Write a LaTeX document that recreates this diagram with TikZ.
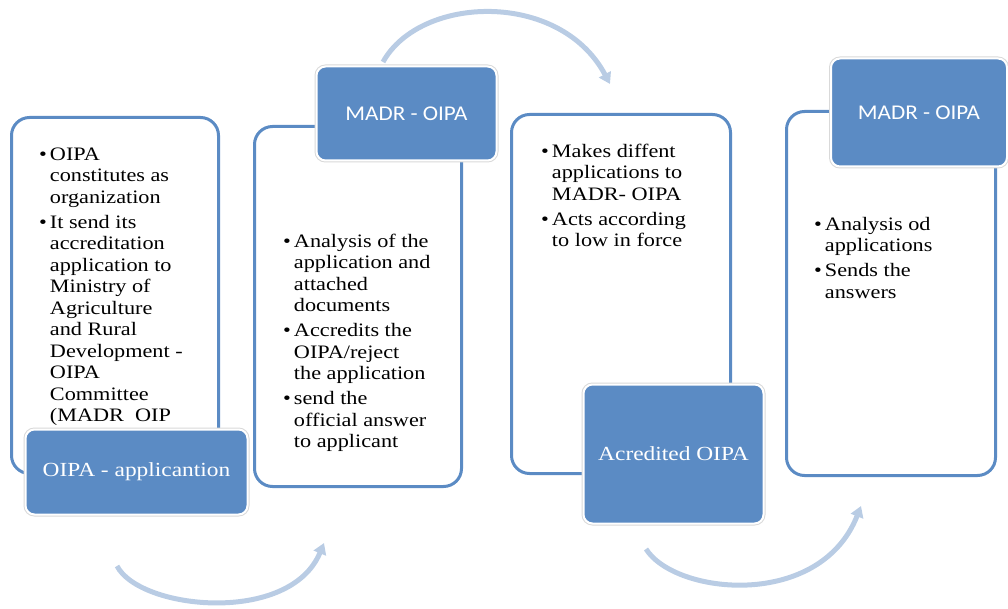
\documentclass[tikz,border=0pt]{standalone}
\usepackage{fontspec}
\setmainfont{Liberation Serif}[FakeStretch=1.17]
\newfontfamily\calibri{Carlito}[FakeStretch=1.1]
\usepackage{tikz}
\usetikzlibrary{arrows.meta}
\definecolor{boxblue}{HTML}{5B8BC4}
\definecolor{arrblue}{HTML}{B9CCE4}

\tikzset{
  panel/.style={draw=boxblue, line width=3pt, fill=white, rounded corners=18pt},
  tag/.style={fill=boxblue, draw=white, line width=2pt, rounded corners=9pt,
    preaction={draw=black!15, line width=4pt}, text=white,
    font=\fontsize{20}{24}\selectfont},
  items/.style={anchor=north west, inner sep=0pt, font=\fontsize{19}{21.5}\selectfont},
  flow/.style={draw=arrblue, line width=5pt, -{Triangle[length=11pt,width=13pt]}}
}

\begin{document}
\begin{tikzpicture}[x=1pt,y=-1pt]
\useasboundingbox (0,0) rectangle (1008,609);

% panels
\node [panel, minimum width=207, minimum height=356] (p1) at (115,295.5) {};
\node [panel, minimum width=207, minimum height=360] (p2) at (358,306.5) {};
\node [panel, minimum width=219, minimum height=359] (p3) at (621,294) {};
\node [panel, minimum width=209, minimum height=364] (p4) at (891,293.5) {};

% bullet texts
\node [items] (t1) at (39,145) {\begin{tabular}{@{}l@{\hspace{3pt}}l@{}}
\textbullet & OIPA\\ & constitutes as\\ & organization\\[3.5pt]
\textbullet & It send its\\ & accreditation\\ & application to\\ & Ministry of\\
 & Agriculture\\ & and Rural\\ & Development -\\ & OIPA\\ & Committee\\ & (MADR\ \ OIP
\end{tabular}};
\node [items] (t2) at (283,232) {\begin{tabular}{@{}l@{\hspace{3pt}}l@{}}
\textbullet & Analysis of the\\ & application and\\ & attached\\ & documents\\[3.5pt]
\textbullet & Accredits the\\ & OIPA/reject\\ & the application\\[3.5pt]
\textbullet & send the\\ & official answer\\ & to applicant
\end{tabular}};
\node [items] (t3) at (541,142) {\begin{tabular}{@{}l@{\hspace{3pt}}l@{}}
\textbullet & Makes diffent\\ & applications to\\ & MADR- OIPA\\[3.5pt]
\textbullet & Acts according\\ & to low in force
\end{tabular}};
\node [items] (t4) at (814,215) {\begin{tabular}{@{}l@{\hspace{3pt}}l@{}}
\textbullet & Analysis od\\ & applications\\[3.5pt]
\textbullet & Sends the\\ & answers
\end{tabular}};

% tags
\node [tag, minimum width=222, minimum height=85] (g1) at (136.5,472) {OIPA - applicantion};
\node [tag, minimum width=180, minimum height=94, font=\calibri\fontsize{21}{24}\selectfont] (g2) at (406.5,113.5) {MADR - OIPA};
\node [tag, minimum width=180, minimum height=139] (g3) at (673.5,454) {Acredited OIPA};
\node [tag, minimum width=176, minimum height=108, font=\calibri\fontsize{21}{24}\selectfont] (g4) at (919,112.5) {MADR - OIPA};

% arrows
\coordinate (a1s) at (383,62);
\coordinate (a1e) at (610,84);
\coordinate (a2s) at (117,566);
\coordinate (a2e) at (324,543);
\coordinate (a3s) at (646,549);
\coordinate (a3e) at (861,506);
\draw [flow] (a1s) .. controls (420,-5) and (560,-10) .. (a1e);
\draw [flow] (a2s) .. controls (140,610) and (290,625) .. (a2e);
\draw [flow] (a3s) .. controls (675,595) and (820,610) .. (a3e);

\end{tikzpicture}
\end{document}
